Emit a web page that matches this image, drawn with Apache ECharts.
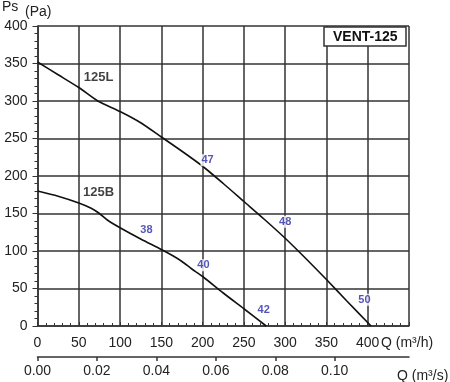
<!DOCTYPE html>
<html><head><meta charset="utf-8">
<script src="https://cdn.jsdelivr.net/npm/echarts@6/dist/echarts.min.js"></script>
<style>html,body{margin:0;padding:0;background:#fff}#c{width:450px;height:382px}</style>
</head><body><div id="c"></div>
<script>
// Data
const curve125L = [[0,352],[25,335],[50,318],[73,300],[100,286],[125,271],[150,252],[175,233],[200,213],[225,190],[250,166],[275,142],[300,117],[325,90],[350,62],[375,33],[404,0]];
const curve125B = [[0,180],[25,173],[50,164],[65,157],[75,150],[85,141],[100,131],[125,116],[150,102],[165,93],[175,86],[187,76],[200,66],[225,44],[250,23],[277,0]];
const pointLabels = [[206,221,'47'],[300,139,'48'],[396,35,'50'],[132,128,'38'],[201,81,'40'],[274,21,'42']];
const curveNames = [[74,331,'125L'],[74,178,'125B']];
const qHourAxis = {min:0, max:450, interval:50};
const qSecAxis = {min:0, max:0.125, interval:0.02};
const qSecTicks = [0, 0.02, 0.04, 0.06, 0.08, 0.10];
const psAxis = {min:0, max:400, interval:50};
const modelName = 'VENT-125';

const FONT = 'Liberation Sans, Arial, sans-serif';
const GRID = '#333';
const chart = echarts.init(document.getElementById('c'), null, {renderer:'canvas'});
chart.setOption({
  animation:false,
  backgroundColor:'#fff',
  textStyle:{fontFamily:FONT},
  title:{text:modelName, left:324, top:27, padding:[3,9,2,9], backgroundColor:'#fff',
    borderColor:'#333', borderWidth:1.5,
    textStyle:{fontFamily:FONT, fontSize:14, fontWeight:'bold', color:'#111'}},
  grid:{left:37.5, right:41, top:26, bottom:56, containLabel:false, outerBoundsMode:'none'},
  xAxis:[{
    type:'value', min:qHourAxis.min, max:qHourAxis.max, interval:qHourAxis.interval,
    axisLine:{show:true, onZero:false, lineStyle:{color:GRID, width:1.5}},
    axisTick:{show:true, inside:true, length:4, lineStyle:{color:GRID, width:1}},
    minorTick:{show:true, splitNumber:5, length:3, lineStyle:{color:GRID, width:1}},
    splitLine:{show:true, lineStyle:{color:GRID, width:1.5}},
    axisLabel:{fontSize:14, color:'#222', margin:10, showMaxLabel:false, fontFamily:FONT}
  },{
    type:'value', position:'bottom', offset:31, min:qSecAxis.min, max:qSecAxis.max, interval:qSecAxis.interval,
    axisLine:{show:true, onZero:false, lineStyle:{color:GRID, width:1.5}},
    axisTick:{show:true, inside:false, length:4, customValues:qSecTicks, lineStyle:{color:GRID, width:1.5}},
    splitLine:{show:false},
    axisLabel:{fontSize:14, color:'#222', margin:7, fontFamily:FONT, customValues:qSecTicks,
      formatter:v=>v.toFixed(2)}
  }],
  yAxis:{
    type:'value', min:psAxis.min, max:psAxis.max, interval:psAxis.interval,
    axisLine:{show:true, lineStyle:{color:GRID, width:1.5}},
    axisTick:{show:true, inside:false, length:5, lineStyle:{color:GRID, width:1}},
    minorTick:{show:true, splitNumber:5, length:3, lineStyle:{color:GRID, width:1}},
    splitLine:{show:true, lineStyle:{color:GRID, width:1.5}},
    axisLabel:{fontSize:14, color:'#222', margin:10, fontFamily:FONT}
  },
  graphic:[
    {type:'text', left:2, top:0, style:{text:'Ps', fontSize:14, fontFamily:FONT, fill:'#222'}},
    {type:'text', left:25, top:5, style:{text:'(Pa)', fontSize:14, fontFamily:FONT, fill:'#222'}},
    {type:'text', left:381, top:336, style:{text:'Q (m³/h)', fontSize:14, fontFamily:FONT, fill:'#222'}},
    {type:'text', left:397, top:369, style:{text:'Q (m³/s)', fontSize:14, fontFamily:FONT, fill:'#222'}}
  ],
  series:[
    {type:'line', name:'125L', data:curve125L, smooth:0.25, symbol:'none', z:3,
      lineStyle:{color:'#111', width:1.6}},
    {type:'line', name:'125B', data:curve125B, smooth:0.25, symbol:'none', z:3,
      lineStyle:{color:'#111', width:1.6}},
    {type:'scatter', data:pointLabels, symbolSize:0, z:5,
      label:{show:true, position:'inside', formatter:p=>p.value[2], color:'#2a2aa6',
        fontSize:11, fontWeight:'bold', fontFamily:FONT, backgroundColor:'#fff', padding:[1,1,0,1]}},
    {type:'scatter', data:curveNames, symbolSize:0, z:5,
      label:{show:true, position:'inside', formatter:p=>p.value[2], color:'#111',
        fontSize:13, fontWeight:'bold', fontFamily:FONT}}
  ]
});
</script></body></html>
